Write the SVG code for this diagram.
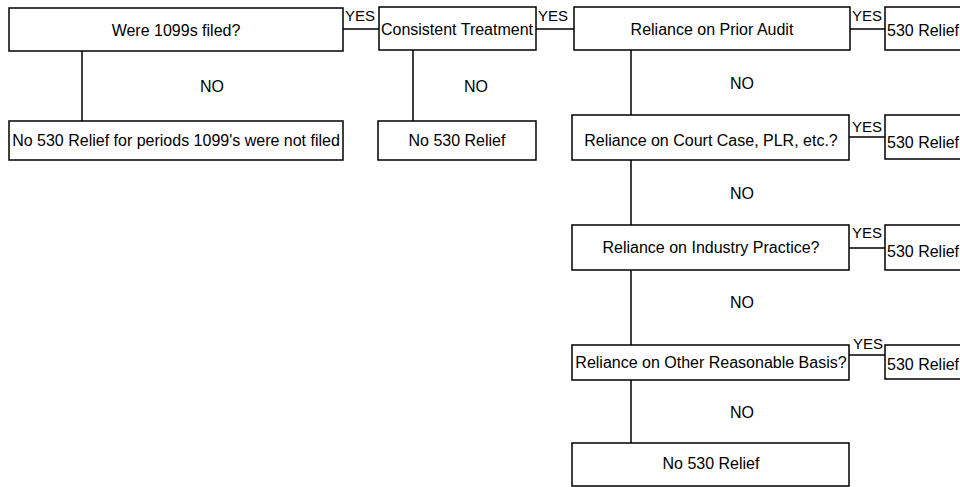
<svg xmlns="http://www.w3.org/2000/svg" width="960" height="487" viewBox="0 0 960 487">
<style>
.box{fill:#fff;stroke:#000;stroke-width:1.5}
.t{font-family:"Liberation Sans",Arial,sans-serif;font-size:16px;fill:#000;text-anchor:middle;dominant-baseline:central}
.r{font-family:"Liberation Sans",Arial,sans-serif;font-size:16px;fill:#000;dominant-baseline:central}
.y{font-family:"Liberation Sans",Arial,sans-serif;font-size:15px;fill:#000}
.c{stroke:#000;stroke-width:1.5;fill:none}
</style>
<rect width="960" height="487" fill="#fff"/>
<g id="connectors">
<path class="c" d="M82 51V121M413 50V121M631 50V115M631 160V225M631 270V345M631 380V443"/>
<path class="c" d="M343 29H379M536 29H574M850 29H885M849 137H885M849 248H885M849 355H885"/>
<text class="t" x="212" y="86">NO</text>
<text class="t" x="476" y="86">NO</text>
<text class="t" x="742" y="83">NO</text>
<text class="t" x="742" y="193">NO</text>
<text class="t" x="742" y="302">NO</text>
<text class="t" x="742" y="412">NO</text>
<text class="y" x="345" y="21">YES</text>
<text class="y" x="538" y="21">YES</text>
<text class="y" x="852" y="21">YES</text>
<text class="y" x="852" y="132">YES</text>
<text class="y" x="852" y="238">YES</text>
<text class="y" x="853" y="349">YES</text>
</g>
<g id="n1"><rect class="box" x="9" y="8" width="334" height="43"/><text class="t" x="176" y="30">Were 1099s filed?</text></g>
<g id="n2"><rect class="box" x="379" y="7" width="157" height="43"/><text class="t" x="457" y="29">Consistent Treatment</text></g>
<g id="n3"><rect class="box" x="574" y="7" width="276" height="43"/><text class="t" x="712" y="29">Reliance on Prior Audit</text></g>
<g id="n4"><rect class="box" x="885" y="7" width="90" height="43"/><text class="r" x="887" y="30">530 Relief</text></g>
<g id="n5"><rect class="box" x="9" y="121" width="334" height="39"/><text class="t" x="176" y="140">No 530 Relief for periods 1099's were not filed</text></g>
<g id="n6"><rect class="box" x="378" y="121" width="158" height="39"/><text class="t" x="457" y="140">No 530 Relief</text></g>
<g id="n7"><rect class="box" x="572" y="115" width="277" height="45"/><text class="t" x="711" y="140">Reliance on Court Case, PLR, etc.?</text></g>
<g id="n8"><rect class="box" x="885" y="115" width="90" height="44"/><text class="r" x="887" y="142">530 Relief</text></g>
<g id="n9"><rect class="box" x="572" y="225" width="277" height="45"/><text class="t" x="711" y="247">Reliance on Industry Practice?</text></g>
<g id="n10"><rect class="box" x="885" y="225" width="90" height="45"/><text class="r" x="887" y="251">530 Relief</text></g>
<g id="n11"><rect class="box" x="572" y="345" width="277" height="35"/><text class="t" x="711" y="362">Reliance on Other Reasonable Basis?</text></g>
<g id="n12"><rect class="box" x="885" y="345" width="90" height="34"/><text class="r" x="887" y="364">530 Relief</text></g>
<g id="n13"><rect class="box" x="572" y="443" width="277" height="43"/><text class="t" x="711" y="463">No 530 Relief</text></g>
</svg>
